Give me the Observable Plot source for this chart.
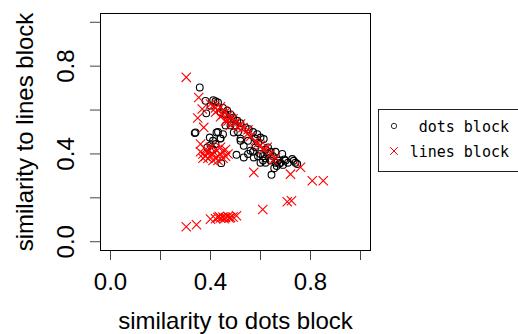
<!DOCTYPE html>
<html>
<head>
<meta charset="utf-8">
<script src="https://cdn.jsdelivr.net/npm/d3@7"></script>
<script src="https://cdn.jsdelivr.net/npm/@observablehq/plot@0.6"></script>
<style>
  html, body { margin: 0; padding: 0; background: #fff; }
  #wrap { position: relative; width: 518px; height: 334px; overflow: hidden; }
  #legend { position: absolute; left: 0; top: 0; }
</style>
</head>
<body>
<div id="wrap"></div>
<script>
// ---- data ----
const xTitle = "similarity to dots block";
const yTitle = "similarity to lines block";
const seriesNames = ["dots block", "lines block"];
const seriesColors = ["black", "red"];
const axisTicks = [0, 0.2, 0.4, 0.6, 0.8, 1.0];
const axisLabelTicks = [0, 0.4, 0.8];

// "dots block" series (circles)
const dotsX = [0.357,0.380,0.411,0.420,0.430,0.383,0.337,0.397,0.424,0.440,0.387,0.420,0.400,0.410,0.443,0.504,0.493,0.467,0.450,0.480,
  0.507,0.520,0.490,0.553,0.540,0.587,0.570,0.613,0.600,0.533,0.560,0.533,0.573,0.600,0.610,0.620,0.630,0.640,0.650,0.660,
  0.670,0.680,0.690,0.687,0.620,0.630,0.644,0.727,0.747,0.740,0.700,0.580,0.590,0.550,0.470,0.460,0.510,0.520,0.640,0.610,
  0.665,0.695,0.710,0.430,0.410,0.450,0.400,0.440,0.500,0.580,0.660,0.620,0.655,0.675,0.600,0.590,0.570,0.550,0.480,0.460,
  0.340,0.440,0.520,0.733];
const dotsY = [0.703,0.642,0.645,0.640,0.635,0.585,0.495,0.475,0.498,0.471,0.430,0.445,0.440,0.420,0.358,0.396,0.498,0.597,0.610,0.580,
  0.551,0.540,0.565,0.513,0.520,0.490,0.500,0.468,0.475,0.437,0.415,0.384,0.384,0.400,0.390,0.380,0.400,0.370,0.390,0.360,
  0.370,0.360,0.350,0.400,0.420,0.430,0.305,0.377,0.354,0.360,0.370,0.430,0.450,0.460,0.560,0.530,0.500,0.470,0.410,0.370,
  0.345,0.375,0.360,0.500,0.460,0.490,0.620,0.590,0.530,0.470,0.410,0.360,0.335,0.355,0.360,0.390,0.410,0.400,0.530,0.580,
  0.498,0.470,0.460,0.369];

// "lines block" series (crosses)
const linesX = [0.303,0.353,0.367,0.349,0.373,0.360,
  0.370,0.380,0.390,0.400,0.410,0.420,0.430,0.440,0.450,0.460,0.470,0.380,0.400,0.420,0.440,0.390,0.410,0.430,0.450,0.370,0.360,0.460,
  0.400,0.410,0.420,0.430,0.440,0.453,0.450,0.460,0.470,0.480,0.470,0.490,0.500,0.520,0.510,0.530,0.547,0.550,0.560,0.587,0.580,0.600,
  0.627,0.610,0.640,0.660,0.650,0.573,0.720,0.760,0.807,0.851,0.440,0.460,0.420,0.480,
  0.303,0.344,0.400,0.420,0.430,0.440,0.450,0.460,0.470,0.480,0.490,0.435,0.455,0.475,0.504,0.609,0.707,0.724];
const linesY = [0.749,0.657,0.605,0.564,0.521,0.445,
  0.400,0.390,0.380,0.390,0.400,0.380,0.390,0.400,0.410,0.390,0.400,0.420,0.430,0.420,0.430,0.410,0.370,0.370,0.380,0.380,0.410,0.420,
  0.627,0.620,0.610,0.600,0.615,0.597,0.580,0.590,0.575,0.566,0.550,0.560,0.545,0.536,0.520,0.520,0.490,0.510,0.480,0.445,0.460,0.440,
  0.430,0.420,0.400,0.384,0.370,0.316,0.308,0.339,0.278,0.278,0.570,0.550,0.590,0.530,
  0.068,0.077,0.103,0.105,0.110,0.108,0.112,0.110,0.115,0.110,0.113,0.115,0.105,0.108,0.118,0.147,0.182,0.187];

// ---- chart ----
const fmt = d3.format(".1f");
const font = "'Liberation Sans', Arial, sans-serif";
const fs = 24;

const chart = Plot.plot({
  width: 518,
  height: 334,
  marginLeft: 100,
  marginRight: 148,
  marginTop: 13,
  marginBottom: 84,
  x: {domain: [-0.04, 1.04]},
  y: {domain: [-0.04, 1.04]},
  style: {fontFamily: font, fontSize: fs + "px", color: "black", background: "white", overflow: "visible"},
  marks: [
    Plot.axisX({ticks: axisTicks, tickSize: 10, tickFormat: () => "", label: null, stroke: "#444"}),
    Plot.axisX({ticks: axisLabelTicks, tickSize: 0, tickPadding: 22, tickFormat: fmt, label: null, fontSize: fs}),
    Plot.axisY({ticks: axisTicks, tickSize: 10, tickFormat: () => "", label: null, stroke: "#444"}),
    Plot.text(axisLabelTicks, {y: d => d, text: d => fmt(d), frameAnchor: "left", dx: -27, rotate: -90,
      lineAnchor: "bottom", textAnchor: "middle", fontSize: fs}),
    Plot.text([xTitle], {text: d => d, frameAnchor: "bottom", dy: 78, lineAnchor: "bottom", textAnchor: "middle", fontSize: fs}),
    Plot.text([yTitle], {text: d => d, frameAnchor: "left", dx: -68, rotate: -90, lineAnchor: "bottom", textAnchor: "middle", fontSize: fs}),
    Plot.frame({stroke: "black", strokeWidth: 1}),
    Plot.dot({length: dotsX.length}, {x: dotsX, y: dotsY, symbol: "circle", r: 3.4, stroke: seriesColors[0], strokeWidth: 1.1, fill: "none"}),
    Plot.dot({length: linesX.length}, {x: linesX, y: linesY, symbol: "times", r: 4.3, stroke: seriesColors[1], strokeWidth: 1.1})
  ]
});
const wrap = document.getElementById("wrap");
wrap.appendChild(chart);

// ---- legend (R-style boxed legend to the right) ----
const legendSvg = d3.select(wrap).append("svg")
  .attr("id", "legend")
  .attr("width", 518).attr("height", 334)
  .style("pointer-events", "none");
legendSvg.append("rect")
  .attr("x", 378.5).attr("y", 109.5).attr("width", 160).attr("height", 62)
  .attr("fill", "white").attr("stroke", "#222").attr("stroke-width", 1);
const symbols = [d3.symbolCircle, d3.symbolTimes];
const sizes = [22, 40];
seriesNames.forEach((name, i) => {
  const cy = 126 + i * 25;
  legendSvg.append("path")
    .attr("transform", `translate(394,${cy})`)
    .attr("d", d3.symbol(symbols[i], sizes[i])())
    .attr("fill", "none")
    .attr("stroke", i === 0 ? "#333" : seriesColors[i])
    .attr("stroke-width", 1);
  legendSvg.append("text")
    .attr("x", 509).attr("y", cy + 6)
    .attr("text-anchor", "end")
    .attr("font-family", "'DejaVu Sans Mono', monospace")
    .attr("font-size", 15)
    .attr("fill", "black")
    .text(name);
});
</script>
</body>
</html>
